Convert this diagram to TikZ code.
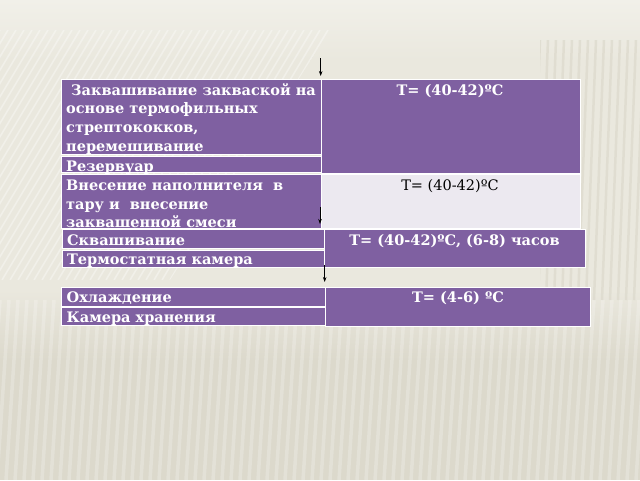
\documentclass[tikz,border=0pt]{standalone}
\usepackage{fontspec}
\setmainfont{DejaVu Serif}
\usetikzlibrary{arrows.meta}
\definecolor{bgc}{RGB}{234,232,222}
\definecolor{bgl}{RGB}{241,240,233}
\definecolor{bgd}{RGB}{220,217,204}
\definecolor{purp}{RGB}{127,96,161}
\definecolor{lightc}{RGB}{236,233,240}
\begin{document}
\begin{tikzpicture}[x=1pt,y=-1pt,
  cell/.style={draw=white, line width=1pt, fill=purp, anchor=north west, inner sep=0pt, outer sep=0pt},
  lcell/.style={cell, fill=lightc},
  lbl/.style={anchor=base west, inner sep=0pt, text=white, font=\bfseries\fontsize{14.5}{18.7}\selectfont},
  rlbl/.style={anchor=base, inner sep=0pt, text=white, font=\bfseries\fontsize{14.5}{18.7}\selectfont},
  dlbl/.style={anchor=base, inner sep=0pt, text=black, font=\fontsize{14.5}{18.7}\selectfont},
  arr/.style={-{Stealth[length=5pt,width=3.5pt]}, line width=0.6pt, black}]
% background
\useasboundingbox (0,0) rectangle (640,480);
\fill[bgc] (0,0) rectangle (640,480);
\shade[top color=bgl, bottom color=bgc] (0,0) rectangle (640,60);
\shade[top color=bgc, bottom color=bgd] (0,290) rectangle (640,360);
\fill[bgd] (0,360) rectangle (640,480);
\begin{scope}
  \clip (0,30) -- (330,30) -- (170,280) -- (0,280) -- cycle;
  \foreach \i in {0,...,45} \draw[white, opacity=0.35, line width=1.6pt] (\i*8,30) -- (\i*8-150,280);
\end{scope}
\begin{scope}
  \clip (540,40) rectangle (640,300);
  \foreach \i in {0,...,14} \draw[bgd, opacity=0.7, line width=2.5pt] (540+\i*8,40) -- (530+\i*8,300);
\end{scope}
\begin{scope}
  \clip (0,300) rectangle (640,480);
  \foreach \i in {0,...,75} \draw[white, opacity=0.22, line width=3.5pt] (\i*9,300) -- (\i*9-12,480);
\end{scope}

% block 1
\node[cell, minimum width=259.5pt, minimum height=75pt] (c1) at (61.5,79.3) {};
\node[cell, minimum width=259.5pt, minimum height=16pt] (c2) at (61.5,156.7) {};
\node[cell, minimum width=259.5pt, minimum height=53.5pt] (c3) at (61.5,174.5) {};
\node[cell, minimum width=259.5pt, minimum height=94.5pt] (r1) at (321,79.3) {};
\node[lcell, minimum width=259.5pt, minimum height=54pt] (r2) at (321,174) {};

\node[lbl] (t1) at (66,95) {\ Заквашивание закваской на};
\node[lbl] (t2) at (66,113.7) {основе термофильных};
\node[lbl] (t3) at (66,132.4) {стрептококков,};
\node[lbl] (t4) at (66,151) {перемешивание};
\node[lbl] (t5) at (66,171) {Резервуар};
\node[lbl] (t6) at (66,190) {Внесение наполнителя\ \ в};
\node[lbl] (t7) at (66,209) {тару и\ \ внесение};
\node[lbl] (t8) at (66,227.5) {заквашенной смеси};
\node[rlbl] (t9) at (450,95) {T= (40-42)ºC};
\node[dlbl] (t10) at (450,190) {T= (40-42)ºC};

% block 2
\node[cell, minimum width=261.3pt, minimum height=19pt] (s1) at (62.7,229.3) {};
\node[cell, minimum width=261.3pt, minimum height=17pt] (s2) at (62.7,250) {};
\node[cell, minimum width=261pt, minimum height=38pt] (s3) at (324,229.3) {};
\node[lbl] (u1) at (67,245) {Сквашивание};
\node[lbl] (u2) at (67,264) {Термостатная камера};
\node[rlbl] (u3) at (454.5,245) {T= (40-42)ºC, (6-8) часов};

% block 3
\node[cell, minimum width=264.3pt, minimum height=18.3pt] (h1) at (61.7,287.7) {};
\node[cell, minimum width=264.3pt, minimum height=18pt] (h2) at (61.7,307.3) {};
\node[cell, minimum width=264.3pt, minimum height=38.3pt] (h3) at (325.7,287.7) {};
\node[lbl] (v1) at (66.5,302.7) {Охлаждение};
\node[lbl] (v2) at (66.5,322) {Камера хранения};
\node[rlbl] (v3) at (458,302.7) {T= (4-6) ºC};

% arrows
\coordinate (a1s) at (320.7,58);
\coordinate (a1e) at (320.7,76);
\coordinate (a2s) at (320,207);
\coordinate (a2e) at (320,224);
\coordinate (a3s) at (324.7,265);
\coordinate (a3e) at (324.7,282);
\draw[arr] (a1s) -- (a1e);
\draw[arr] (a2s) -- (a2e);
\draw[arr] (a3s) -- (a3e);
\end{tikzpicture}
\end{document}
